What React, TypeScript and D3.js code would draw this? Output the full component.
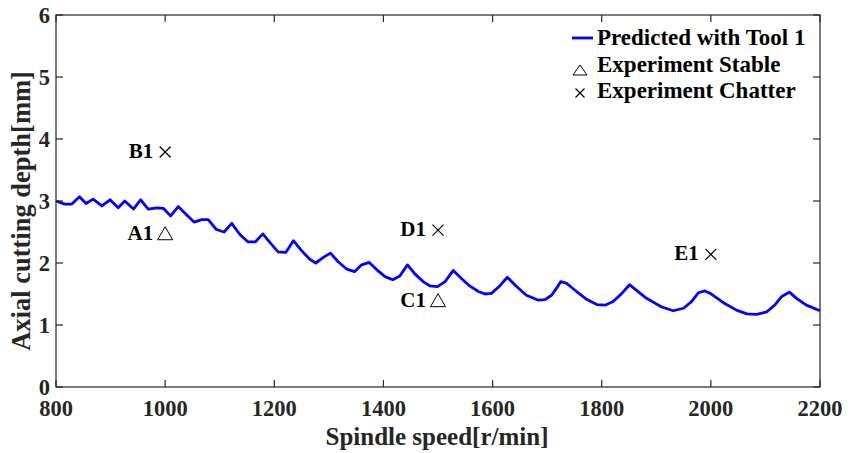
import React from "react";
import * as d3 from "d3";

const speeds = [800, 816, 829, 843, 855, 868, 884, 899, 914, 926, 942, 955, 969, 985, 997, 1010, 1024, 1040, 1053, 1067, 1079, 1094, 1108, 1122, 1137, 1152, 1165, 1179, 1193, 1207, 1221, 1235, 1250, 1265, 1276, 1290, 1303, 1317, 1333, 1347, 1360, 1374, 1388, 1403, 1417, 1430, 1444, 1458, 1473, 1485, 1499, 1513, 1528, 1543, 1558, 1574, 1586, 1598, 1612, 1627, 1644, 1662, 1684, 1696, 1708, 1717, 1725, 1736, 1754, 1773, 1791, 1806, 1821, 1837, 1851, 1861, 1882, 1910, 1931, 1950, 1965, 1977, 1989, 1999, 2023, 2047, 2066, 2084, 2102, 2117, 2130, 2144, 2157, 2175, 2200];
const depths = [3.0, 2.95, 2.95, 3.07, 2.96, 3.03, 2.92, 3.02, 2.89, 3.0, 2.87, 3.02, 2.87, 2.89, 2.88, 2.76, 2.91, 2.77, 2.66, 2.7, 2.7, 2.54, 2.5, 2.64, 2.46, 2.34, 2.34, 2.47, 2.32, 2.18, 2.17, 2.36, 2.2, 2.06, 2.0, 2.09, 2.16, 2.02, 1.9, 1.86, 1.97, 2.01, 1.89, 1.78, 1.73, 1.79, 1.97, 1.82, 1.7, 1.63, 1.62, 1.7, 1.88, 1.75, 1.63, 1.54, 1.5, 1.51, 1.62, 1.77, 1.62, 1.48, 1.4, 1.41, 1.48, 1.59, 1.7, 1.67, 1.54, 1.41, 1.33, 1.32, 1.38, 1.51, 1.65, 1.58, 1.43, 1.29, 1.23, 1.27, 1.38, 1.52, 1.55, 1.51, 1.36, 1.24, 1.18, 1.17, 1.21, 1.32, 1.46, 1.53, 1.43, 1.32, 1.23];

const expLabels = ["A1", "B1", "C1", "D1", "E1"];
const expSpeeds = [1000, 1000, 1500, 1500, 2000];
const expDepths = [2.48, 3.79, 1.4, 2.53, 2.14];
const expTypes = ["stable", "chatter", "stable", "chatter", "chatter"];

const xTicks = [800, 1000, 1200, 1400, 1600, 1800, 2000, 2200];
const yTicks = [0, 1, 2, 3, 4, 5, 6];

const legendLabels = ["Predicted with Tool 1", "Experiment Stable", "Experiment Chatter"];

const W = 859, H = 453;
const L = 56, T = 15, R = 820, B = 387;
const FONT = "'Liberation Serif', 'Times New Roman', serif";
const AX = "#262626";

const triPath = (cx: number, cy: number, w: number, h: number) =>
  `M${cx - w / 2},${cy + h / 2}L${cx + w / 2},${cy + h / 2}L${cx},${cy - h / 2}Z`;
const crossPath = (cx: number, cy: number, r: number) =>
  `M${cx - r},${cy - r}L${cx + r},${cy + r}M${cx - r},${cy + r}L${cx + r},${cy - r}`;

export default function App() {
  const x = d3.scaleLinear().domain([800, 2200]).range([L, R]);
  const y = d3.scaleLinear().domain([0, 6]).range([B, T]);
  const pts = speeds.map((s, i) => [s, depths[i]] as [number, number]);
  const line = d3.line<[number, number]>().x(d => x(d[0])).y(d => y(d[1]));
  const tk = 7;

  return (
    <svg width={W} height={H} style={{ position: "absolute", left: 0, top: 0, background: "#fff" }} fontFamily={FONT}>
      <rect x={0} y={0} width={W} height={H} fill="#fff" />
      <path d={line(pts) || ""} fill="none" stroke="#0000ff" strokeWidth={2.8} strokeLinejoin="round" />
      <rect x={L} y={T} width={R - L} height={B - T} fill="none" stroke={AX} strokeWidth={1.2} />
      {xTicks.map(t => (
        <g key={"x" + t}>
          <line x1={x(t)} x2={x(t)} y1={B} y2={B - tk} stroke={AX} strokeWidth={1.2} />
          <line x1={x(t)} x2={x(t)} y1={T} y2={T + tk} stroke={AX} strokeWidth={1.2} />
          <text x={x(t)} y={416} textAnchor="middle" fontSize={22.5} fontWeight="bold" fill={AX}>{t}</text>
        </g>
      ))}
      {yTicks.map(t => (
        <g key={"y" + t}>
          <line x1={L} x2={L + tk} y1={y(t)} y2={y(t)} stroke={AX} strokeWidth={1.2} />
          <line x1={R} x2={R - tk} y1={y(t)} y2={y(t)} stroke={AX} strokeWidth={1.2} />
          <text x={50} y={y(t) + 7.5} textAnchor="end" fontSize={22.5} fontWeight="bold" fill={AX}>{t}</text>
        </g>
      ))}
      <text x={437} y={445} textAnchor="middle" fontSize={25} fontWeight="bold" fill={AX}>Spindle speed[r/min]</text>
      <text transform={`translate(30,211) rotate(-90)`} textAnchor="middle" fontSize={26.5} fontWeight="bold" fill={AX}>Axial cutting depth[mm]</text>
      {expLabels.map((lab, i) => {
        const cx = x(expSpeeds[i]);
        const cy = y(expDepths[i]);
        if (expTypes[i] === "stable") {
          return (
            <g key={lab}>
              <path d={triPath(cx, cy, 15, 13)} fill="none" stroke="#000" strokeWidth={1} />
              <text x={cx - 12} y={cy + 7} textAnchor="end" fontSize={21} fontWeight="bold" fill="#000">{lab}</text>
            </g>
          );
        }
        return (
          <g key={lab}>
            <path d={crossPath(cx, cy, 5.5)} stroke="#000" strokeWidth={1.2} />
            <text x={cx - 12} y={cy + 6} textAnchor="end" fontSize={21} fontWeight="bold" fill="#000">{lab}</text>
          </g>
        );
      })}
      <line x1={572} x2={593} y1={38} y2={38} stroke="#0000ff" strokeWidth={2.8} />
      <path d={triPath(580, 70, 14, 10)} fill="none" stroke="#000" strokeWidth={1} />
      <path d={crossPath(580, 93, 4.5)} stroke="#000" strokeWidth={1.2} />
      {legendLabels.map((lab, i) => (
        <text key={lab} x={597} y={45 + i * 26.5} fontSize={23} fontWeight="bold" fill="#000">{lab}</text>
      ))}
    </svg>
  );
}
